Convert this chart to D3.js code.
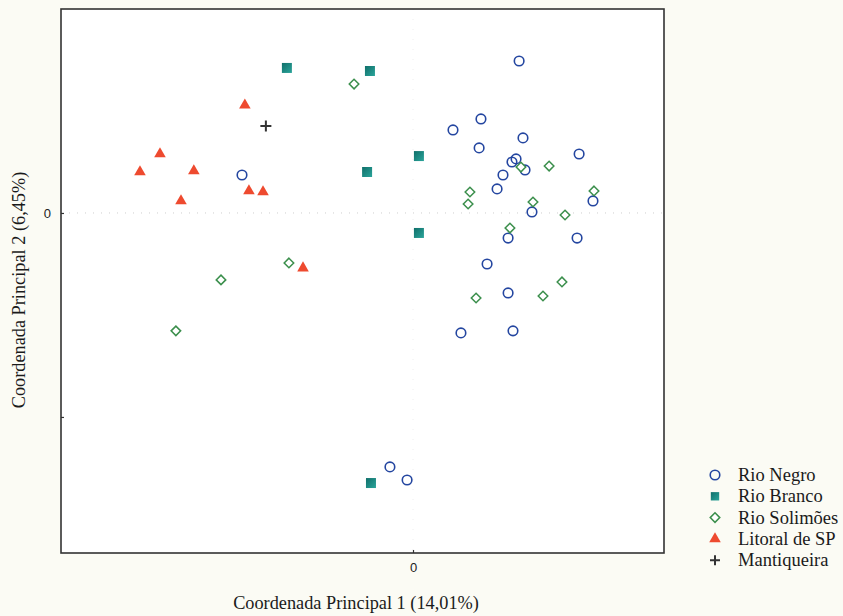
<!DOCTYPE html>
<html>
<head>
<meta charset="utf-8">
<script src="https://cdn.jsdelivr.net/npm/d3@7"></script>
<style>
  html, body { margin: 0; padding: 0; background: #fbfbf4; }
  svg { display: block; }
</style>
</head>
<body>
<svg id="chart" width="843" height="616"></svg>
<script>
// Principal coordinates (PC1, PC2) per group
const rioNegro = [
  [-0.838, 0.186], [-0.113, -1.245], [-0.029, -1.309], [0.520, 0.745],
  [0.333, 0.461], [0.196, 0.407], [0.539, 0.368], [0.324, 0.319],
  [0.814, 0.289], [0.505, 0.265], [0.485, 0.250], [0.549, 0.211],
  [0.441, 0.186], [0.412, 0.118], [0.882, 0.059], [0.583, 0.005],
  [0.466, -0.123], [0.804, -0.123], [0.363, -0.250], [0.466, -0.392],
  [0.235, -0.588], [0.490, -0.578]
];
const rioBranco = [
  [-0.618, 0.711], [-0.211, 0.696], [-0.225, 0.201], [0.029, 0.279],
  [0.029, -0.098], [-0.206, -1.324]
];
const rioSolimoes = [
  [-0.289, 0.632], [-0.608, -0.245], [-0.941, -0.328], [-1.162, -0.578],
  [0.529, 0.225], [0.667, 0.230], [0.279, 0.103], [0.887, 0.108],
  [0.270, 0.044], [0.588, 0.054], [0.745, -0.010], [0.475, -0.074],
  [0.730, -0.338], [0.309, -0.417], [0.637, -0.407]
];
const litoralSP = [
  [-0.824, 0.529], [-1.240, 0.289], [-1.338, 0.201], [-1.074, 0.206],
  [-0.804, 0.108], [-0.735, 0.103], [-1.137, 0.059], [-0.539, -0.270]
];
const mantiqueira = [
  [-0.721, 0.426]
];

const groupNames = ["Rio Negro", "Rio Branco", "Rio Solimões", "Litoral de SP", "Mantiqueira"];
const xTickValues = [0];
const xTickLabels = ["0"];
const yTickValues = [0, -1];
const yTickLabels = ["0", ""];
const xTitle = "Coordenada Principal 1 (14,01%)";
const yTitle = "Coordenada Principal 2 (6,45%)";

const svg = d3.select("#chart");
const plot = { left: 61, right: 664, top: 9, bottom: 553 };

const x = d3.scaleLinear().domain([-1.725, 1.23]).range([plot.left, plot.right]);
const y = d3.scaleLinear().domain([-1.667, 1.0]).range([plot.bottom, plot.top]);

// plot area
svg.append("rect")
  .attr("x", plot.left).attr("y", plot.top)
  .attr("width", plot.right - plot.left).attr("height", plot.bottom - plot.top)
  .attr("fill", "#ffffff");

// faint zero reference lines
svg.append("line")
  .attr("x1", plot.left).attr("x2", plot.right)
  .attr("y1", y(0)).attr("y2", y(0))
  .attr("stroke", "#cfcfcf").attr("stroke-width", 1)
  .attr("stroke-dasharray", "1,7");
svg.append("line")
  .attr("x1", x(0)).attr("x2", x(0))
  .attr("y1", plot.top).attr("y2", plot.bottom)
  .attr("stroke", "#eeeeee").attr("stroke-width", 1)
  .attr("stroke-dasharray", "1,9");

// axes
const xAxis = d3.axisBottom(x).tickValues(xTickValues)
  .tickFormat((d, i) => xTickLabels[i]).tickSizeInner(-3).tickSizeOuter(0).tickPadding(10);
const yAxis = d3.axisLeft(y).tickValues(yTickValues)
  .tickFormat((d, i) => yTickLabels[i]).tickSizeInner(-3).tickSizeOuter(0).tickPadding(10);

const gx = svg.append("g").attr("transform", `translate(0,${plot.bottom})`).call(xAxis);
const gy = svg.append("g").attr("transform", `translate(${plot.left},0)`).call(yAxis);
[gx, gy].forEach(g => {
  g.select(".domain").remove();
  g.selectAll(".tick line").attr("stroke", "#333").attr("stroke-width", 1.2);
  g.selectAll(".tick text")
    .attr("font-family", "Liberation Sans, Arial, sans-serif")
    .attr("font-size", 13).attr("fill", "#222");
});

// frame
svg.append("rect")
  .attr("x", plot.left).attr("y", plot.top)
  .attr("width", plot.right - plot.left).attr("height", plot.bottom - plot.top)
  .attr("fill", "none").attr("stroke", "#333").attr("stroke-width", 1.6);

// marker styles
const styles = [
  { data: rioNegro,    type: d3.symbolCircle,   size: 72, fill: "none",    stroke: "#2446a0", sw: 1.6 },
  { data: rioBranco,   type: d3.symbolSquare,   size: 100, fill: "url(#tealGrad)", stroke: "none", sw: 0 },
  { data: rioSolimoes, type: d3.symbolDiamond2, size: 58, fill: "#ffffff", stroke: "#3b8f4c", sw: 1.5 },
  { data: litoralSP,   type: d3.symbolTriangle, size: 58, fill: "#ee4a2f", stroke: "none", sw: 0 },
  { data: mantiqueira, type: null, size: 0, fill: "none", stroke: "#333", sw: 2 }
];

const defs = svg.append("defs");
const grad = defs.append("linearGradient").attr("id", "tealGrad")
  .attr("x1", "0").attr("y1", "0").attr("x2", "1").attr("y2", "1");
grad.append("stop").attr("offset", "0%").attr("stop-color", "#106f6a");
grad.append("stop").attr("offset", "100%").attr("stop-color", "#2aa49a");

function plusPath(s) {
  const h = s / 2;
  return `M${-h},0H${h}M0,${-h}V${h}`;
}

const marks = svg.append("g");
styles.forEach((st, gi) => {
  marks.append("g").selectAll("path")
    .data(st.data)
    .join("path")
    .attr("transform", d => `translate(${x(d[0])},${y(d[1])})`)
    .attr("d", gi === 4 ? plusPath(11) : d3.symbol().type(st.type).size(st.size)())
    .attr("fill", st.fill)
    .attr("stroke", st.stroke)
    .attr("stroke-width", st.sw);
});

// legend
const legend = svg.append("g");
const legendX = 715, legendY0 = 475, legendStep = 21.3;
groupNames.forEach((name, i) => {
  const st = styles[i];
  const cy = legendY0 + i * legendStep;
  legend.append("path")
    .attr("transform", `translate(${legendX},${cy})`)
    .attr("d", i === 4 ? plusPath(10) : d3.symbol().type(st.type).size(i === 1 ? 70 : st.size)())
    .attr("fill", st.fill)
    .attr("stroke", st.stroke)
    .attr("stroke-width", st.sw);
  legend.append("text")
    .attr("x", 738).attr("y", cy + 6)
    .attr("font-family", "Liberation Serif, Times New Roman, serif")
    .attr("font-size", 18.5).attr("fill", "#1a1a1a")
    .text(name);
});

// axis titles
svg.append("text")
  .attr("x", 356).attr("y", 609)
  .attr("text-anchor", "middle")
  .attr("font-family", "Liberation Serif, Times New Roman, serif")
  .attr("font-size", 18.3).attr("fill", "#1a1a1a")
  .text(xTitle);

svg.append("text")
  .attr("transform", `translate(25,290) rotate(-90)`)
  .attr("text-anchor", "middle")
  .attr("font-family", "Liberation Serif, Times New Roman, serif")
  .attr("font-size", 18.3).attr("fill", "#1a1a1a")
  .text(yTitle);
</script>
</body>
</html>
